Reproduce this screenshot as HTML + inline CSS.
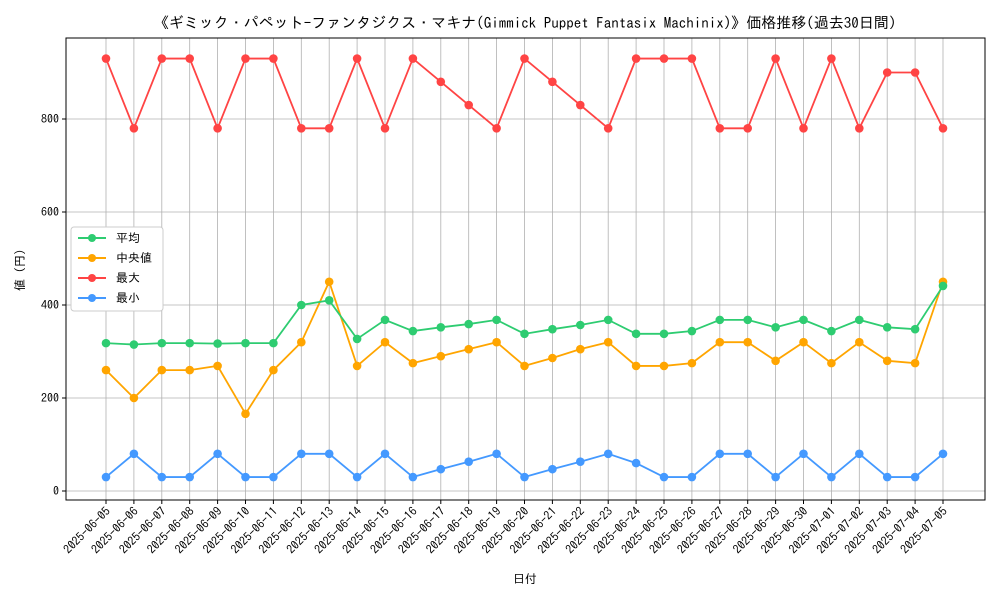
<!DOCTYPE html>
<html><head><meta charset="utf-8"><style>
body{margin:0;background:#fff;}
svg text{font-family:"IPAGothic","Noto Sans CJK JP",monospace;fill:#000;}
</style></head><body>
<svg id="chart" width="1000" height="600" xmlns="http://www.w3.org/2000/svg">
<rect width="1000" height="600" fill="#fff"/>
<text x="525" y="28" font-size="15" text-anchor="middle">《ギミック・パペット-ファンタジクス・マキナ(Gimmick Puppet Fantasix Machinix)》価格推移(過去30日間)</text>
<g id="grid"></g><g id="axes"></g><g id="series"></g>
<text x="525" y="583" font-size="12" text-anchor="middle">日付</text>
<text transform="translate(24,270) rotate(-90)" font-size="12" text-anchor="middle">値 (円)</text>
<g>
<rect x="71" y="227" width="92" height="84" fill="#fff" stroke="#ccc" rx="3"/>
<line x1="78" y1="238" x2="106" y2="238" stroke="#2ecc71" stroke-width="2"/><circle cx="92" cy="238" r="4" fill="#2ecc71"/><text x="116" y="242" font-size="12">平均</text>
<line x1="78" y1="258" x2="106" y2="258" stroke="#ffa500" stroke-width="2"/><circle cx="92" cy="258" r="4" fill="#ffa500"/><text x="116" y="262" font-size="12">中央値</text>
<line x1="78" y1="278" x2="106" y2="278" stroke="#ff4444" stroke-width="2"/><circle cx="92" cy="278" r="4" fill="#ff4444"/><text x="116" y="282" font-size="12">最大</text>
<line x1="78" y1="298" x2="106" y2="298" stroke="#4499ff" stroke-width="2"/><circle cx="92" cy="298" r="4" fill="#4499ff"/><text x="116" y="302" font-size="12">最小</text>
</g>
</svg>
<script>
const dates=["2025-06-05","2025-06-06","2025-06-07","2025-06-08","2025-06-09","2025-06-10","2025-06-11","2025-06-12","2025-06-13","2025-06-14","2025-06-15","2025-06-16","2025-06-17","2025-06-18","2025-06-19","2025-06-20","2025-06-21","2025-06-22","2025-06-23","2025-06-24","2025-06-25","2025-06-26","2025-06-27","2025-06-28","2025-06-29","2025-06-30","2025-07-01","2025-07-02","2025-07-03","2025-07-04","2025-07-05"];
const meanVals=[318,315,318,318,317,318,318,400,410,327,368,344,352,359,368,338,348,357,368,338,338,344,368,368,352,368,344,368,352,348,441];
const medianVals=[260,200,260,260,269,166,260,320,450,269,320,275,290,305,320,269,286,305,320,269,269,275,320,320,280,320,275,320,280,275,450];
const maxVals=[930,780,930,930,780,930,930,780,780,930,780,930,880,830,780,930,880,830,780,930,930,930,780,780,930,780,930,780,900,900,780];
const minVals=[30,80,30,30,80,30,30,80,80,30,80,30,47,63,80,30,47,63,80,60,30,30,80,80,30,80,30,80,30,30,80];
const yTicks=[0,200,400,600,800];
const NS="http://www.w3.org/2000/svg";
const L=66,R=985,T=38,B=500;
const xs=i=>106+i*(943-106)/(dates.length-1);
const ys=v=>491-v*0.465;
function mk(tag,at,parent){const e=document.createElementNS(NS,tag);for(const k in at)e.setAttribute(k,at[k]);parent.appendChild(e);return e;}
const grid=document.getElementById('grid'),axes=document.getElementById('axes'),ser=document.getElementById('series');
dates.forEach((d,i)=>{
 const g=mk('line',{x1:xs(i),x2:xs(i),y1:T,y2:B,stroke:'#b0b0b0','stroke-width':0.8},grid);
 
 
 mk('line',{x1:xs(i),x2:xs(i),y1:B,y2:B+4,stroke:'#000'},axes);
 const t=mk('text',{x:xs(i)+5,y:B+12,'font-size':12,'text-anchor':'end',transform:`rotate(-45 ${xs(i)+5} ${B+12})`},axes);
 t.textContent=d;
 
 
});
yTicks.forEach(v=>{
 const g=mk('line',{x1:L,x2:R,y1:ys(v),y2:ys(v),stroke:'#b0b0b0','stroke-width':0.8},grid);
 
 
 mk('line',{x1:L-4,x2:L,y1:ys(v),y2:ys(v),stroke:'#000'},axes);
 const t=mk('text',{x:L-7,y:ys(v)+4,'font-size':12,'text-anchor':'end'},axes);
 t.textContent=v;
 
 
});
const fr=mk('rect',{x:L,y:T,width:R-L,height:B-T,fill:'none',stroke:'#000','stroke-width':1},axes);


[[maxVals,'#ff4444','max'],[minVals,'#4499ff','min'],[medianVals,'#ffa500','median'],[meanVals,'#2ecc71','mean']].forEach(([vals,c,n])=>{
 const p=mk('polyline',{points:vals.map((v,i)=>xs(i)+','+ys(v)).join(' '),fill:'none',stroke:c,'stroke-width':1.8},ser);
 
 
 vals.forEach((v,i)=>{
  const m=mk('circle',{cx:xs(i),cy:ys(v),r:4.3,fill:c},ser);
  
  
 });
});
</script>
</body></html>
